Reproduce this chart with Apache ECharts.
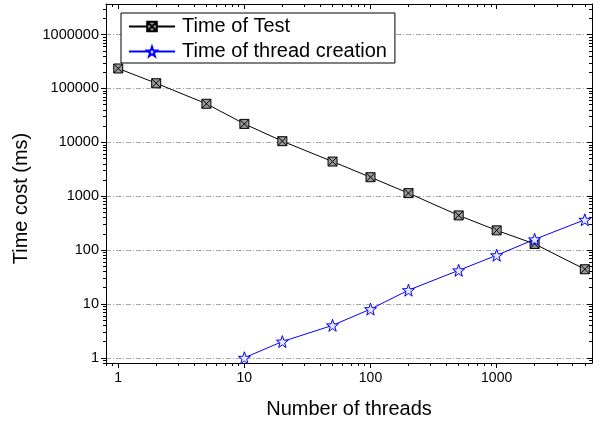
<!DOCTYPE html>
<html>
<head>
<meta charset="utf-8">
<script src="https://cdn.jsdelivr.net/npm/echarts@6/dist/echarts.min.js"></script>
<style>
  html, body { margin: 0; padding: 0; background: #fff; }
  #chart { width: 608px; height: 424px; }
</style>
</head>
<body>
<div id="chart"></div>
<script>
// data
let testThreads = [1, 2, 5, 10, 20, 50, 100, 200, 500, 1000, 2000, 5000];
let testTime = [235000, 125000, 52000, 22000, 10500, 4400, 2250, 1140, 440, 232, 130, 44];
let createThreads = [10, 20, 50, 100, 200, 500, 1000, 2000, 5000];
let createTime = [1, 2, 4, 8, 18, 42, 80, 158, 365];

let xMajor = [1, 10, 100, 1000];
let yMajor = [1, 10, 100, 1000, 10000, 100000, 1000000];

const X_MIN = 0.8, X_MAX = 5700;
const Y_MIN = 0.8, Y_MAX = 3.7e6;
const FONT = "'Liberation Sans', Arial, sans-serif";

// minor ticks 2..9 in each decade (axis decoration only)
function minorTicks(lo, hi) {
    let out = [];
    for (let d = 0.1; d <= hi; d *= 10) {
        for (let k = 2; k <= 9; k++) {
            let v = Math.round(k * d * 1000) / 1000;
            if (v >= lo && v <= hi) out.push(v);
        }
    }
    return out;
}
let xMinor = minorTicks(X_MIN, X_MAX);
let yMinor = minorTicks(Y_MIN, Y_MAX);

function pairs(xs, ys) {
    return xs.map((x, i) => [x, ys[i]]);
}

const SQUARE_X = 'path://M0,0L10,0L10,10L0,10Z M0,0L10,10 M10,0L0,10';
const STAR = 'path://M10,0L12.351,6.764L19.511,6.910L13.804,11.236L15.878,18.090L10,14L4.122,18.090L6.196,11.236L0.489,6.910L7.649,6.764Z';

function logAxis(min, max, position, opts) {
    return Object.assign({
        type: 'log',
        min: min,
        max: max,
        position: position,
        axisLine: { show: true, lineStyle: { color: '#000', width: 1 } },
        axisLabel: { show: false },
        splitLine: { show: false },
        minorTick: { show: false }
    }, opts);
}

var myChart = echarts.init(document.getElementById('chart'));
myChart.setOption({
    animation: false,
    textStyle: { fontFamily: FONT },
    grid: { left: 106, right: 16, top: 4, bottom: 60 },
    legend: {
        left: 121,
        top: 13,
        orient: 'vertical',
        selectedMode: false,
        backgroundColor: '#fff',
        borderColor: '#000',
        borderWidth: 1,
        borderRadius: 0,
        padding: [3, 8, 1, 7],
        itemGap: 4,
        itemWidth: 46,
        itemHeight: 12,
        textStyle: { fontFamily: FONT, fontSize: 20, color: '#000', lineHeight: 21, padding: [0, 0, 0, 2] }
    },
    xAxis: [
        logAxis(X_MIN, X_MAX, 'bottom', {
            name: 'Number of threads',
            nameLocation: 'middle',
            nameGap: 36,
            nameTextStyle: { fontFamily: FONT, fontSize: 20, color: '#000' },
            axisTick: { show: true, inside: false, length: 5, customValues: xMajor, lineStyle: { color: '#000' } },
            axisLabel: {
                show: true, customValues: xMajor, margin: 8,
                fontFamily: FONT, fontSize: 14, color: '#000',
                formatter: v => String(Math.round(v))
            }
        }),
        logAxis(X_MIN, X_MAX, 'bottom', {
            axisLine: { show: false },
            axisTick: { show: true, inside: false, length: 3, customValues: xMinor, lineStyle: { color: '#000' } }
        }),
        logAxis(X_MIN, X_MAX, 'top', {
            axisTick: { show: true, inside: true, length: 5, customValues: xMajor, lineStyle: { color: '#000' } }
        }),
        logAxis(X_MIN, X_MAX, 'top', {
            axisLine: { show: false },
            axisTick: { show: true, inside: true, length: 3, customValues: xMinor, lineStyle: { color: '#000' } }
        })
    ],
    yAxis: [
        logAxis(Y_MIN, Y_MAX, 'left', {
            name: 'Time cost (ms)',
            nameLocation: 'middle',
            nameGap: 72,
            nameTextStyle: { fontFamily: FONT, fontSize: 20, color: '#000', padding: [0, 30, 0, 0] },
            axisTick: { show: true, inside: false, length: 5, customValues: yMajor, lineStyle: { color: '#000' } },
            axisLabel: {
                show: true, customValues: yMajor, margin: 7,
                fontFamily: FONT, fontSize: 14.5, color: '#000',
                formatter: v => String(Math.round(v))
            },
            splitLine: { show: true, lineStyle: { color: '#a8a8a8', width: 1, type: [5, 2, 1, 2] } }
        }),
        logAxis(Y_MIN, Y_MAX, 'left', {
            axisLine: { show: false },
            axisTick: { show: true, inside: false, length: 3, customValues: yMinor, lineStyle: { color: '#000' } }
        }),
        logAxis(Y_MIN, Y_MAX, 'right', {
            axisTick: { show: true, inside: true, length: 5, customValues: yMajor, lineStyle: { color: '#000' } }
        }),
        logAxis(Y_MIN, Y_MAX, 'right', {
            axisLine: { show: false },
            axisTick: { show: true, inside: true, length: 3, customValues: yMinor, lineStyle: { color: '#000' } }
        })
    ],
    series: [
        {
            name: 'Time of Test',
            type: 'line',
            xAxisIndex: 0,
            yAxisIndex: 0,
            data: pairs(testThreads, testTime),
            symbol: SQUARE_X,
            symbolSize: 9,
            lineStyle: { color: '#000', width: 1 },
            itemStyle: { color: '#9a9a9a', borderColor: '#000', borderWidth: 1 },
            z: 3
        },
        {
            name: 'Time of thread creation',
            type: 'line',
            xAxisIndex: 0,
            yAxisIndex: 0,
            data: pairs(createThreads, createTime),
            symbol: STAR,
            symbolSize: 12,
            lineStyle: { color: '#0000ff', width: 1 },
            itemStyle: { color: '#e8e8ff', borderColor: '#0000ff', borderWidth: 1 },
            z: 4
        }
    ]
});
</script>
</body>
</html>
